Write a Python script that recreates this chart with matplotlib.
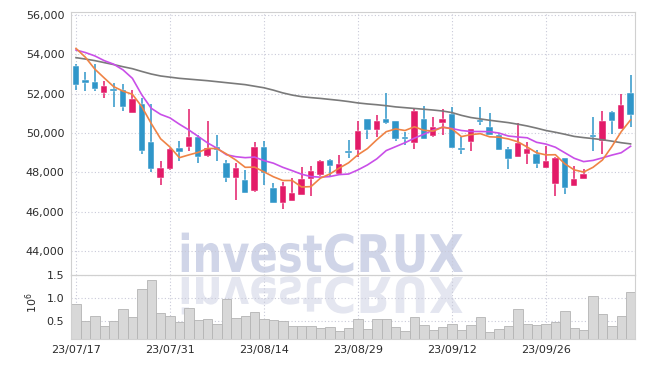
import matplotlib
matplotlib.use("Agg")
import matplotlib.pyplot as plt
import numpy as np
from matplotlib.textpath import TextPath
from matplotlib.patches import PathPatch
from matplotlib.font_manager import FontProperties
from matplotlib.transforms import Affine2D, IdentityTransform
from matplotlib.ticker import FuncFormatter

# daily candles (KRW), 60 trading days starting 23/07/17
opens = [53400, 52700, 52600, 52050, 52200, 52200, 51000, 51500, 49550, 47700,
         48200, 49250, 49300, 49800, 48850, 49300, 48500, 47700, 47600, 47050,
         49300, 47200, 46450, 46550, 46850, 47650, 47850, 48650, 47900, 49100,
         49150, 50700, 50150, 50700, 50600, 49800, 49500, 50700, 49850, 50500,
         50950, 49250, 49550, 50650, 50300, 49900, 49200, 48800, 48950, 48950,
         48250, 47400, 48750, 47300, 47650, 49900, 49600, 51050, 50200, 52050]
highs = [53500, 53100, 53500, 52650, 52550, 52500, 52200, 51800, 51500, 48600,
         49250, 49600, 51200, 49900, 50600, 49900, 48650, 48500, 48100, 49550,
         49600, 47450, 47500, 47700, 48300, 48350, 48650, 48700, 48900, 49650,
         50600, 50700, 50900, 52050, 50600, 50050, 51200, 51400, 50800, 51200,
         51300, 49800, 50200, 51300, 51000, 50000, 49300, 50500, 49550, 49150,
         49350, 48800, 48750, 48350, 48150, 50800, 51100, 51100, 52000, 52950]
lows = [52200, 52150, 52150, 51800, 51300, 51100, 51000, 48950, 48000, 47350,
        48100, 48600, 49100, 48500, 48800, 48600, 47500, 46600, 46950, 47000,
        47350, 46450, 46150, 46550, 46850, 46800, 47800, 47750, 47900, 48750,
        48800, 49700, 49800, 50450, 49600, 49400, 49200, 49700, 49800, 49900,
        49250, 48950, 49100, 50400, 49900, 49150, 48150, 48800, 48450, 48250,
        48250, 46800, 46900, 47300, 47650, 49100, 48950, 49950, 50200, 50300]
closes = [52450, 52550, 52250, 52400, 52150, 51300, 51750, 49100, 48150, 48250,
          49200, 49050, 49800, 48800, 49250, 49150, 47700, 48250, 46950, 49300,
          47950, 46450, 47300, 46950, 47650, 48050, 48600, 48350, 48450, 49000,
          50100, 50150, 50600, 50500, 49700, 49700, 51100, 49700, 50300, 50700,
          49250, 49150, 50200, 50550, 49900, 49150, 48700, 49500, 49200, 48450,
          48600, 48750, 47200, 47650, 47900, 49800, 50600, 50600, 51450, 50900]

# moving averages as drawn on the chart
ma5 = [54300, 53850, 53250, 52800, 52360, 52130, 51970, 51340, 50490, 49710,
       49290, 48750, 48890, 49020, 49220, 49210, 48940, 48630, 48260, 48270,
       48030, 47780, 47590, 47590, 47260, 47280, 47710, 47920, 48220, 48490,
       48900, 49210, 49660, 50070, 50210, 50130, 50320, 50140, 50100, 50300,
       50210, 49820, 49920, 49970, 49810, 49790, 49700, 49560, 49290, 49000,
       48890, 48900, 48440, 48130, 48020, 48260, 48630, 49310, 50070, 50670]
ma20 = [54220, 54090, 53920, 53680, 53500, 53210, 52780, 51940, 51260, 50950,
        50770, 50450, 50160, 49830, 49500, 49230, 48900, 48800, 48750, 48780,
        48600, 48470, 48260, 48090, 47910, 47790, 47760, 47790, 47890, 47920,
        48130, 48380, 48690, 49110, 49310, 49510, 49740, 49940, 50150, 50300,
        50230, 50130, 50080, 50080, 50070, 50000, 49850, 49800, 49760, 49530,
        49440, 49280, 49000, 48720, 48550, 48610, 48740, 48880, 49000, 49330]
ma60 = [53830, 53760, 53680, 53580, 53480, 53370, 53270, 53130, 53000, 52900,
        52840, 52780, 52740, 52700, 52660, 52610, 52560, 52510, 52460, 52380,
        52300, 52180, 52040, 51930, 51850, 51800, 51760, 51710, 51660, 51600,
        51530, 51480, 51440, 51390, 51330, 51290, 51250, 51210, 51170, 51120,
        51040, 50900, 50790, 50720, 50650, 50590, 50530, 50450, 50360, 50250,
        50130, 50040, 49940, 49830, 49770, 49720, 49660, 49590, 49510, 49450]

# volume in millions of shares
volume = [0.86, 0.49, 0.59, 0.38, 0.49, 0.75, 0.57, 1.19, 1.38, 0.66,
          0.60, 0.46, 0.77, 0.51, 0.53, 0.43, 0.97, 0.55, 0.60, 0.68,
          0.54, 0.51, 0.49, 0.38, 0.38, 0.38, 0.33, 0.35, 0.27, 0.33,
          0.53, 0.31, 0.53, 0.53, 0.35, 0.27, 0.57, 0.40, 0.29, 0.35,
          0.43, 0.29, 0.40, 0.57, 0.24, 0.31, 0.38, 0.75, 0.43, 0.40,
          0.43, 0.47, 0.70, 0.33, 0.29, 1.04, 0.64, 0.38, 0.60, 1.12]

tick_pos = [0, 10, 20, 30, 40, 50]
tick_labels = ["23/07/17", "23/07/31", "23/08/14", "23/08/29", "23/09/12", "23/09/26"]

UP = "#e31b68"
DOWN = "#2f96c9"
GRID = "#c9cad9"
SPINE = "#d0d0d0"
TXT = "#2b2b2b"

W, H = 645, 368
fig = plt.figure(figsize=(W / 100, H / 100), dpi=100)


def box(left, top, right, bottom):
    return [left / W, 1 - bottom / H, (right - left) / W, (bottom - top) / H]


ax = fig.add_axes(box(71.3, 12, 635.3, 275))
axv = fig.add_axes(box(71.3, 275, 635.3, 339.3), sharex=ax)
for a in (ax, axv):
    a.set_facecolor("none")
    for s in a.spines.values():
        s.set_color(SPINE)
        s.set_linewidth(0.8)
    a.grid(True, color=GRID, linestyle=(0, (1, 2)), linewidth=0.8)
    a.set_axisbelow(True)
    a.tick_params(length=0, labelsize=8, colors=TXT, pad=5)

x = np.arange(len(closes))

# candles
for i in x:
    o, h, l, c = opens[i], highs[i], lows[i], closes[i]
    col = UP if c >= o else DOWN
    ax.vlines(i, l, h, color=col, linewidth=1.1, zorder=3)
    body = max(abs(c - o), 70)
    ax.bar(i, body, bottom=min(o, c), width=0.68, color=col,
           edgecolor="white", linewidth=0.3, zorder=4)

ax.plot(x, ma60, color="#7a7a7a", linewidth=1.2, zorder=5)
ax.plot(x, ma20, color="#c94fe8", linewidth=1.2, zorder=5)
ax.plot(x, ma5, color="#ef8345", linewidth=1.2, zorder=6)

ax.set_xlim(-0.5, len(closes) - 0.5)
ax.set_ylim(42790, 56150)
ax.set_yticks(range(44000, 56001, 2000))
ax.yaxis.set_major_formatter(FuncFormatter(lambda v, p: f"{int(v):,}"))
ax.tick_params(axis="x", labelbottom=False)

# volume
axv.bar(x, volume, width=1.0, bottom=0, color="#d8d8d8", edgecolor="#b4b4b4",
        linewidth=0.6, zorder=2)
axv.set_ylim(0.09, 1.5)
axv.set_yticks([0.5, 1.0, 1.5])
axv.set_yticklabels(["0.5", "1.0", "1.5"])
axv.set_xticks(tick_pos)
axv.set_xticklabels(tick_labels)
axv.tick_params(axis="x", pad=4)
fig.text(32 / W, 1 - 303 / H, "$10^6$", rotation=90, ha="center", va="center",
         fontsize=8, color=TXT)

# watermark "invest" + "CRUX" with a faded reflection under it
fp = FontProperties(family="DejaVu Sans", weight="bold")
base = H - 272
cap = 38.5
word_caps = TextPath((0, 0), "CRUX", size=100, prop=fp)
sy = cap / word_caps.get_extents().y1
for word, left, right in [("invest", 181.7, 321.7), ("CRUX", 325, 463)]:
    tp = TextPath((0, 0), word, size=100, prop=fp)
    bb = tp.get_extents()
    sx = (right - left) / bb.width
    main_tr = Affine2D().translate(-bb.x0, 0).scale(sx, sy).translate(left, base)
    refl_tr = Affine2D().translate(-bb.x0, 0).scale(sx, -sy * 0.95).translate(left, base - 5)
    fig.add_artist(PathPatch(main_tr.transform_path(tp), facecolor="#d0d5e8",
                             edgecolor="none", transform=IdentityTransform(), zorder=-1))
    fig.add_artist(PathPatch(refl_tr.transform_path(tp), facecolor="#e4e6f0",
                             edgecolor="none", transform=IdentityTransform(), zorder=-1))

fig.savefig("out.png", dpi=100)
